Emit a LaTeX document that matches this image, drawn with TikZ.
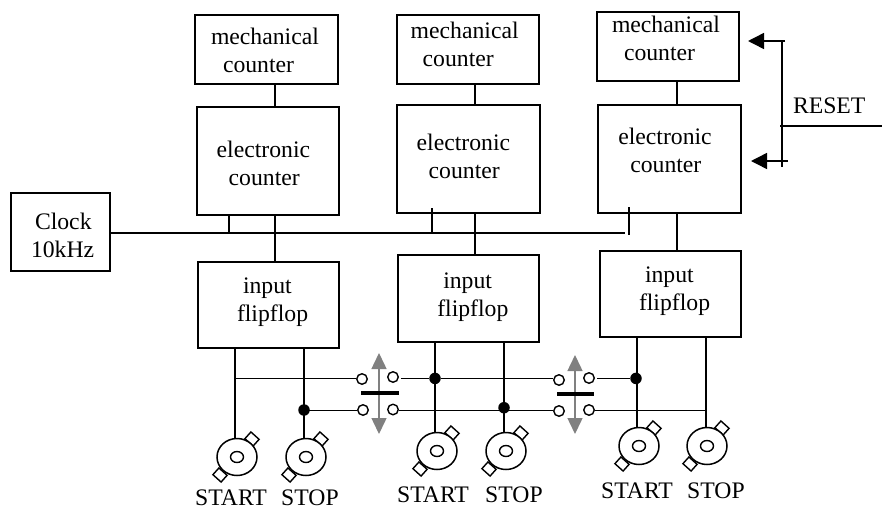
\documentclass[tikz,border=0pt]{standalone}
\usepackage{fontspec}
\setmainfont{Liberation Serif}
\usetikzlibrary{arrows.meta,shapes.geometric}
\tikzset{
  every picture/.style={x=1pt,y=-1pt},
  lbl/.style={inner sep=0pt,outer sep=0pt,align=left,anchor=base west,font=\fontsize{23.7}{28}\selectfont},
  wire/.style={line width=1.5pt,line cap=butt},
  contact/.style={circle,draw=black,fill=white,line width=1.4pt,minimum size=10.5pt,inner sep=0pt},
  junction/.style={circle,fill=black,minimum size=11.5pt,inner sep=0pt},
  body/.style={ellipse,draw=black,fill=white,line width=1.5pt,minimum width=40pt,minimum height=37pt,inner sep=0pt},
  hole/.style={ellipse,draw=black,fill=white,line width=1.4pt,minimum width=13pt,minimum height=11pt,inner sep=0pt},
  tabn/.style={rectangle,draw=black,fill=white,line width=1.4pt,minimum width=11pt,minimum height=9pt,inner sep=0pt,rotate=-42},
  gate/.style={line width=3.2pt,black},
  lever/.style={draw=black!50,line width=1.5pt,{Triangle[length=16pt,width=15pt,fill=black!50]}-{Triangle[length=16pt,width=15pt,fill=black!50]}},
  rst/.style={line width=1.5pt,-{Triangle[length=16pt,width=16pt,fill=black]}}
}
\newcommand{\boxat}[5]{\node[draw=black,line width=1.7pt,fill=white,inner sep=0pt,minimum width=#4-#2,minimum height=#5-#3] (#1) at ({(#2+#4)/2},{(#3+#5)/2}) {};}
\newcommand{\bnc}[3]{%
  \node[tabn] (#1a) at (#2+15,#3-18) {};
  \node[tabn] (#1b) at (#2-17,#3+18) {};
  \node[body] (#1) at (#2,#3) {};
  \node[hole] (#1h) at (#2,#3) {};}
\begin{document}
\begin{tikzpicture}
\useasboundingbox (0,0) rectangle (882,509);
% x positions of the vertical wires
\foreach \n/\v in {cA/275,cB/475,cC/677,wA/235,wB/304,wC/435,wD/504,wE/637,wF/706,tA/229,tB/432,tC/629}
  \coordinate (\n) at (\v,0);
% heights of the two horizontal wires
\coordinate (hi) at (0,378.4);
\coordinate (lo) at (0,410.5);
% boxes
\boxat{m1}{195}{15}{338}{84}
\boxat{e1}{197}{107}{339}{215}
\boxat{f1}{198}{262}{339}{348}
\boxat{m2}{397}{15}{539}{84}
\boxat{e2}{397}{105}{540}{213}
\boxat{f2}{398}{255}{539}{342}
\boxat{m3}{597}{12}{739}{81}
\boxat{e3}{598}{105}{741}{213}
\boxat{f3}{600}{251}{741}{337}
\boxat{clk}{11}{193}{110}{271}
% box texts
\node[lbl] (tm1) at (211,72.7) {mechanical\\\hspace*{12pt}counter};
\node[lbl] (te1) at (216.7,185) {electronic\\\hspace*{12pt}counter};
\node[lbl] (tf1) at (237,321.7) {\hspace*{6pt}input\\flipflop};
\node[lbl] (tm2) at (410.7,66) {mechanical\\\hspace*{12pt}counter};
\node[lbl] (te2) at (416.7,178) {electronic\\\hspace*{12pt}counter};
\node[lbl] (tf2) at (437.3,316) {\hspace*{6pt}input\\flipflop};
\node[lbl] (tm3) at (612,60.7) {mechanical\\\hspace*{12pt}counter};
\node[lbl] (te3) at (618.3,172.7) {electronic\\\hspace*{12pt}counter};
\node[lbl] (tf3) at (639,310.7) {\hspace*{6pt}input\\flipflop};
\node[lbl] (tclk) at (31,257) {\hspace*{4pt}Clock\\10kHz};
\node[lbl] (trst) at (793,113) {RESET};
% vertical links between boxes
\foreach \i/\c in {1/cA,2/cB,3/cC}{
  \draw[wire] (m\i.south -| \c) -- (e\i.north -| \c);
  \draw[wire] (e\i.south -| \c) -- (f\i.north -| \c);
}
% clock bus
\coordinate (busend) at (625,233);
\draw[wire] (clk.east |- busend) -- (busend);
\draw[wire] (e1.south -| tA) -- (tA |- busend);
\draw[wire] (tB |- 0,208) -- (tB |- busend);
\draw[wire] (tC |- 0,207) -- (tC |- 0,235);
% connectors
\bnc{s1}{237}{457}
\bnc{s2}{306}{457}
\bnc{s3}{437}{451}
\bnc{s4}{506}{451}
\bnc{s5}{639}{446}
\bnc{s6}{707}{446}
% wires from flip flops to connectors
\draw[wire] (f1.south -| wA) -- (wA |- s1.north);
\draw[wire] (f1.south -| wB) -- (wB |- s2.north);
\draw[wire] (f2.south -| wC) -- (wC |- s3.north);
\draw[wire] (f2.south -| wD) -- (wD |- s4.north);
\draw[wire] (f3.south -| wE) -- (wE |- s5.north);
\draw[wire] (f3.south -| wF) -- (wF |- s6.north);
% switch contacts
\node[contact] (a1) at (362,379) {};
\node[contact] (b1) at (393,377) {};
\node[contact] (c1) at (363,410) {};
\node[contact] (g1) at (393,409.5) {};
\node[contact] (a2) at (559,380) {};
\node[contact] (b2) at (589,378) {};
\node[contact] (c2) at (559,411) {};
\node[contact] (g2) at (589,410) {};
% junctions
\node[junction] (d1) at (304,410) {};
\node[junction] (d2) at (435,378.4) {};
\node[junction] (d3) at (504,407.7) {};
\node[junction] (d4) at (636,378.4) {};
% horizontal wires
\draw[wire] (wA |- hi) -- (a1.west |- hi);
\draw[wire] (d1 |- lo) -- (c1.west |- lo);
\draw[wire,shorten <=2pt] (b1.east |- hi) -- (d2);
\draw[wire] (d2) -- (a2.west |- hi);
\draw[wire] (g1.east |- lo) -- (c2.west |- lo);
\draw[wire,shorten <=2pt] (b2.east |- hi) -- (d4);
\draw[wire] (g2.east |- lo) -- (wF |- lo);
% switch levers
\coordinate (u1) at (379,353); \coordinate (v1) at (379,434);
\coordinate (u2) at (575,355); \coordinate (v2) at (575,434);
\draw[lever] (u1) -- (v1);
\draw[lever] (u2) -- (v2);
\coordinate (p1) at (361,393); \coordinate (q1) at (399,393);
\coordinate (p2) at (557,394); \coordinate (q2) at (594,394);
\draw[gate] (p1) -- (q1);
\draw[gate] (p2) -- (q2);
% reset
\coordinate (rtop) at (782,41);
\coordinate (rbot) at (782,167);
\coordinate (rin) at (780,126);
\coordinate (rout) at (882,126);
\coordinate (h1s) at (785,41);
\coordinate (h1e) at (748,41);
\coordinate (h2s) at (788,161);
\coordinate (h2e) at (751,161);
\draw[line width=1.4pt] (rtop) -- (rbot);
\draw[wire] (rin) -- (rout);
\draw[rst] (h1s) -- (h1e);
\draw[rst] (h2s) -- (h2e);
% connector captions
\node[lbl,anchor=base] (l1) at (231,505.5) {START};
\node[lbl,anchor=base] (l2) at (310,505.5) {STOP};
\node[lbl,anchor=base] (l3) at (433,502) {START};
\node[lbl,anchor=base] (l4) at (514,502) {STOP};
\node[lbl,anchor=base] (l5) at (637,498) {START};
\node[lbl,anchor=base] (l6) at (716,498) {STOP};
\end{tikzpicture}
\end{document}
